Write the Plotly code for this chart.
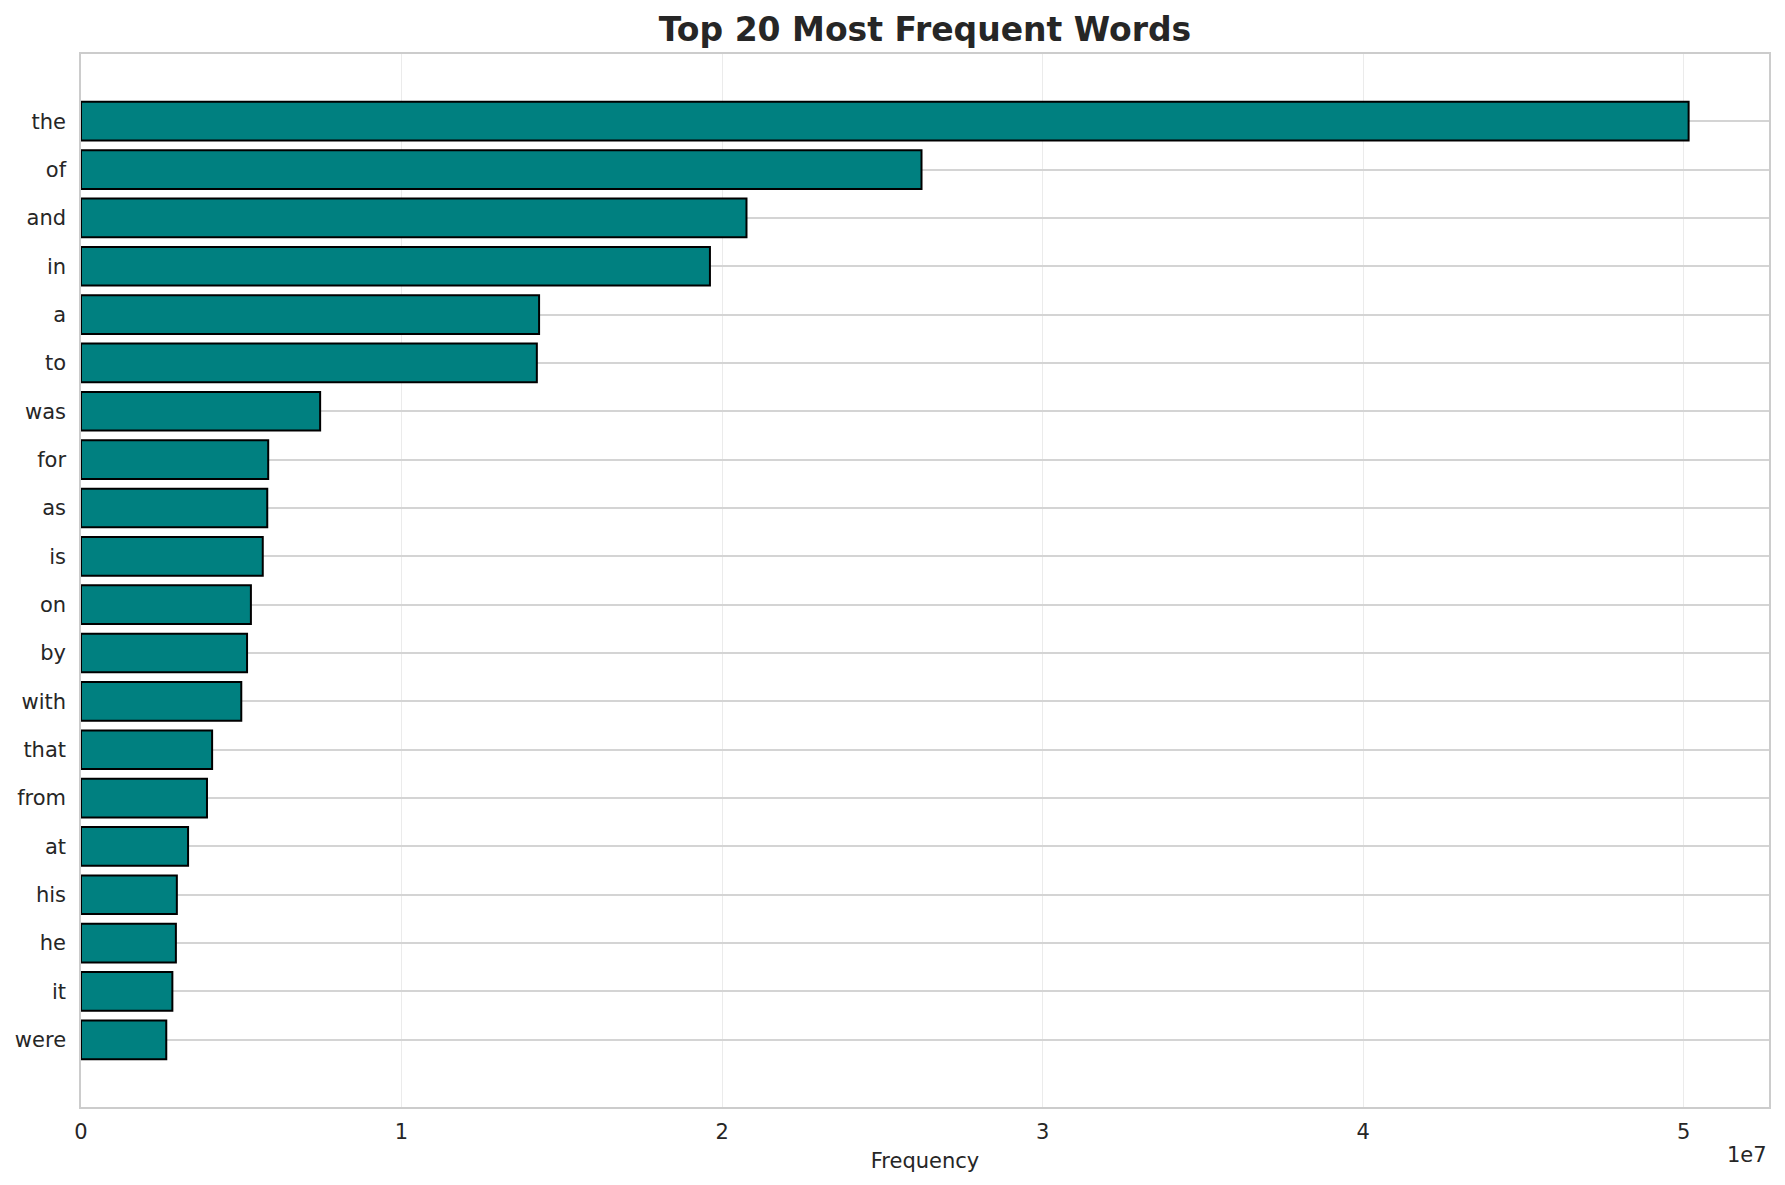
import plotly.graph_objects as go

# Data (top to bottom)
words = ["the", "of", "and", "in", "a", "to", "was", "for", "as", "is",
         "on", "by", "with", "that", "from", "at", "his", "he", "it", "were"]
counts = [50.15e6, 26.22e6, 20.76e6, 19.62e6, 14.29e6, 14.22e6, 7.46e6, 5.84e6,
          5.81e6, 5.67e6, 5.30e6, 5.18e6, 5.00e6, 4.09e6, 3.93e6, 3.34e6,
          2.99e6, 2.96e6, 2.85e6, 2.66e6]

x_ticks = [0, 1e7, 2e7, 3e7, 4e7, 5e7]
x_ticktext = ["0", "1", "2", "3", "4", "5"]

font_family = "DejaVu Sans"

fig = go.Figure()
fig.add_trace(go.Bar(
    x=counts, y=words, orientation="h", width=0.8,
    marker=dict(color="#008080", line=dict(color="black", width=2)),
))

fig.update_layout(
    width=1785, height=1185,
    margin=dict(l=81, r=16, t=54, b=78),
    plot_bgcolor="white", paper_bgcolor="white",
    showlegend=False,
    font=dict(family=font_family, size=21, color="#262626"),
    title=dict(text="<b>Top 20 Most Frequent Words</b>", x=0.5, xanchor="center",
               xref="paper", y=0.975, yanchor="middle",
               font=dict(family=font_family, size=33, color="#262626")),
)

fig.update_xaxes(
    range=[0, max(counts) * 1.05],
    tickvals=x_ticks, ticktext=x_ticktext,
    showgrid=True, gridcolor="#ebebeb", gridwidth=1,
    showline=True, linecolor="#cccccc", linewidth=1.5, mirror=True,
    zeroline=False, ticks="", ticklabelstandoff=5, automargin=False,
    title=dict(text="Frequency", font=dict(size=21), standoff=10),
)
fig.update_yaxes(
    type="category", categoryorder="array", categoryarray=words,
    range=[len(words) - 1 + 1.39, -1.39],
    showgrid=True, gridcolor="#d4d4d4", gridwidth=1.5,
    showline=True, linecolor="#cccccc", linewidth=1.5, mirror=True,
    zeroline=False, ticks="", ticklabelstandoff=9, automargin=False,
)

fig.add_annotation(text="1e7", xref="paper", yref="paper", x=1, y=0,
                   xanchor="right", yanchor="top", yshift=-34, showarrow=False,
                   font=dict(family=font_family, size=21, color="#262626"))

# page default body margin would shift the figure by 8px
fig.write_html("out.html", config={"displayModeBar": False},
               post_script="document.body.style.margin='0';")
